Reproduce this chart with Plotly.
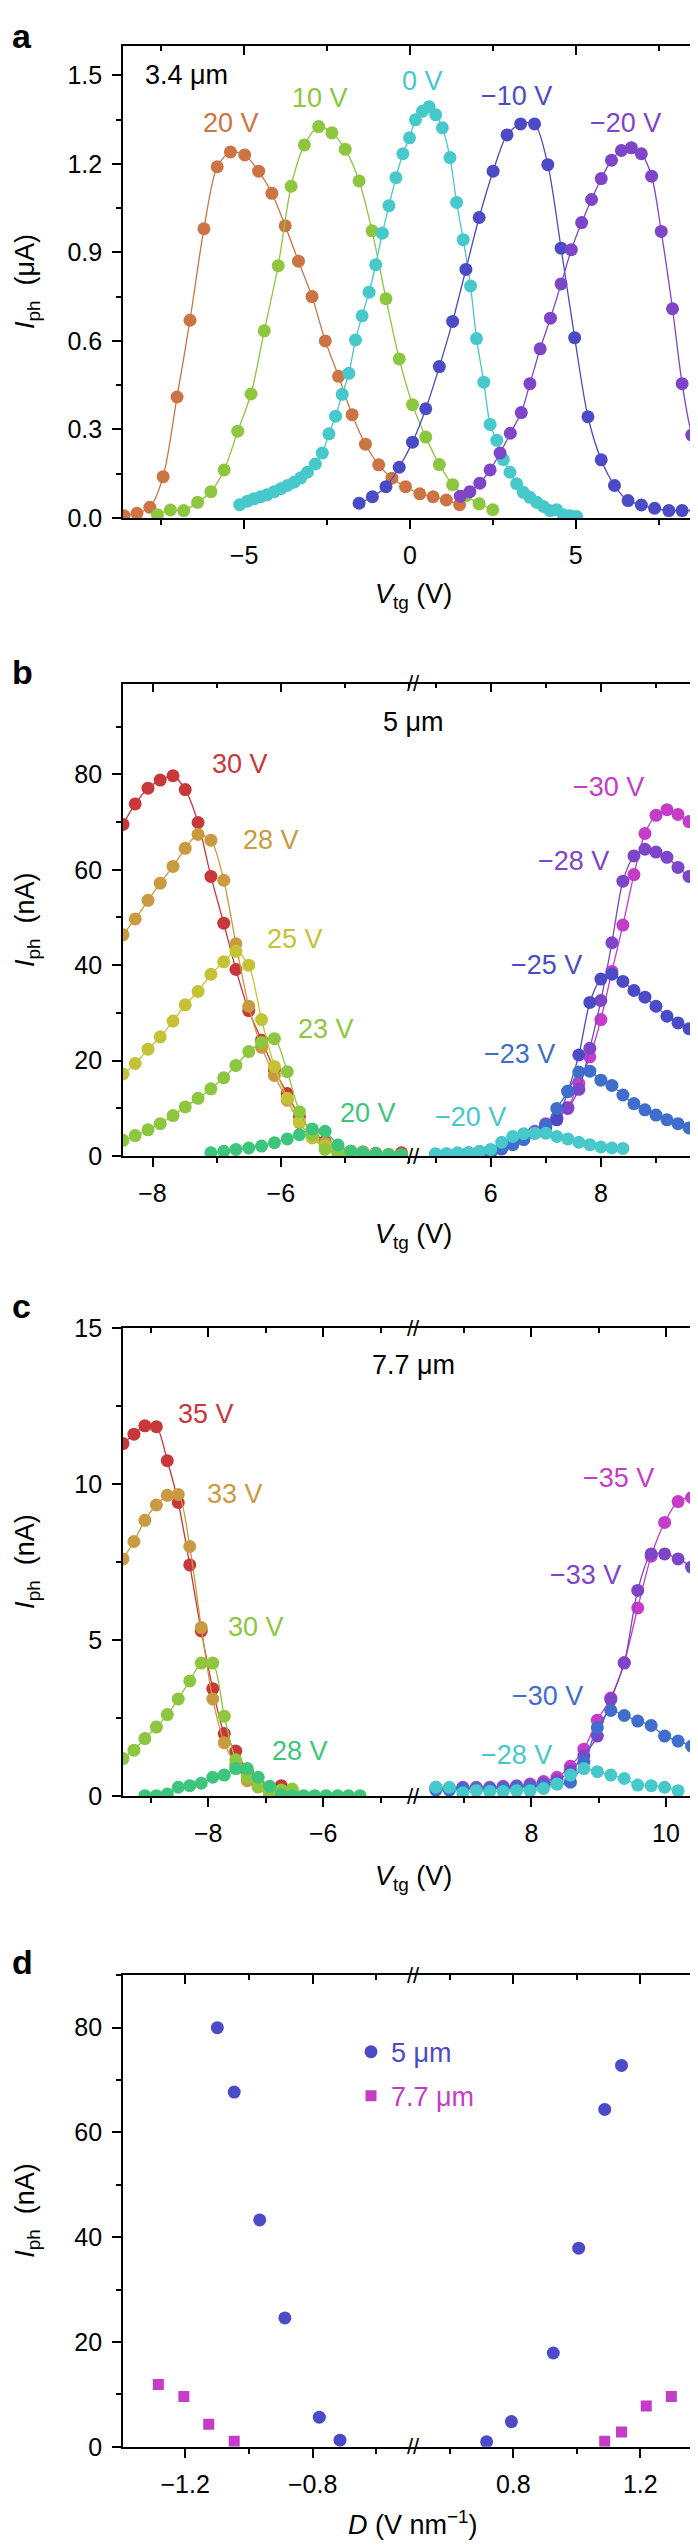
import plotly.graph_objects as go

# ---------------- data ----------------
# panel a: 3.4 um, Iph (uA) vs Vtg (V), one curve per back-gate voltage
a20_x = [-8.62, -8.23, -7.84, -7.44, -7.02, -6.63, -6.21, -5.81, -5.41, -4.98, -4.56, -4.16, -3.76,
         -3.36, -2.95, -2.55, -2.15, -1.74, -1.34, -0.94, -0.54, -0.13, 0.30, 0.70, 1.10, 1.50]
a20_y = [0.008, 0.016, 0.036, 0.14, 0.41, 0.67, 0.98, 1.19, 1.24, 1.23, 1.175, 1.10, 0.99,
         0.87, 0.75, 0.60, 0.48, 0.35, 0.25, 0.18, 0.135, 0.106, 0.082, 0.072, 0.061, 0.045]
a10_x = [-7.61, -7.22, -6.82, -6.40, -6.00, -5.60, -5.19, -4.79, -4.39, -3.97, -3.58, -3.18, -2.75,
         -2.35, -1.95, -1.53, -1.14, -0.72, -0.32, 0.08, 0.48, 0.89, 1.29, 1.69, 2.09, 2.50]
a10_y = [0.011, 0.027, 0.025, 0.053, 0.089, 0.163, 0.294, 0.42, 0.634, 0.855, 1.124, 1.264, 1.326,
         1.305, 1.249, 1.142, 0.973, 0.743, 0.539, 0.384, 0.274, 0.181, 0.113, 0.076, 0.048, 0.028]
a0_x = [-5.13, -4.90, -4.70, -4.50, -4.30, -4.09, -3.89, -3.69, -3.49, -3.29, -3.09, -2.85, -2.64,
        -2.44, -2.24, -2.04, -1.84, -1.64, -1.44, -1.23, -1.03, -0.83, -0.63, -0.42, -0.21, -0.01,
        0.17, 0.38, 0.58, 0.78, 0.98, 1.21, 1.41, 1.61, 1.83, 2.01, 2.23, 2.42, 2.62, 2.82, 3.02,
        3.22, 3.42, 3.62, 3.83, 4.03, 4.23, 4.43, 4.63, 4.83, 5.03]
a0_y = [0.045, 0.057, 0.065, 0.072, 0.079, 0.089, 0.099, 0.110, 0.121, 0.136, 0.155, 0.183, 0.220,
        0.285, 0.345, 0.419, 0.490, 0.603, 0.685, 0.765, 0.858, 0.965, 1.058, 1.153, 1.234, 1.288,
        1.349, 1.378, 1.393, 1.366, 1.322, 1.221, 1.069, 0.943, 0.786, 0.608, 0.460, 0.317, 0.263,
        0.198, 0.155, 0.116, 0.087, 0.070, 0.053, 0.039, 0.025, 0.028, 0.011, 0.008, 0.005]
am10_x = [-1.53, -1.13, -0.72, -0.32, 0.08, 0.48, 0.89, 1.29, 1.69, 2.09, 2.51, 2.93, 3.34,
          3.76, 4.16, 4.56, 4.97, 5.37, 5.77, 6.17, 6.58, 6.98, 7.38, 7.81, 8.21, 8.63]
am10_y = [0.050, 0.072, 0.106, 0.172, 0.257, 0.370, 0.513, 0.666, 0.842, 1.018, 1.175, 1.298, 1.335,
          1.335, 1.197, 0.914, 0.611, 0.343, 0.197, 0.110, 0.059, 0.044, 0.033, 0.025, 0.025, 0.025]
am20_x = [1.52, 1.81, 2.11, 2.42, 2.72, 3.03, 3.36, 3.62, 3.93, 4.24, 4.56, 4.87, 5.18,
          5.48, 5.77, 6.08, 6.38, 6.68, 6.98, 7.29, 7.58, 7.92, 8.21, 8.50, 8.79]
am20_y = [0.074, 0.089, 0.118, 0.163, 0.220, 0.287, 0.357, 0.455, 0.573, 0.677, 0.793, 0.909, 1.001,
          1.079, 1.150, 1.212, 1.245, 1.254, 1.234, 1.158, 0.971, 0.709, 0.455, 0.281, 0.186]

# panel b: 5 um, Iph (nA)
b_left_x = [-8.46, -8.27, -8.07, -7.88, -7.68, -7.49, -7.29, -7.09, -6.89, -6.70, -6.50, -6.30,
            -6.10, -5.90, -5.71, -5.51, -5.31, -5.11, -4.91, -4.72, -4.52, -4.32, -4.12]
b30 = [69.5, 73.8, 77.1, 78.8, 79.7, 76.8, 69.9, 58.6, 48.8, 39.1, 30.5, 24.3,
       18.1, 13.1, 8.3, 5.2, 3.1, 1.7, 1.0, 0.8, 0.6, 0.3, 0.7]
b28 = [46.4, 49.7, 53.6, 57.2, 60.7, 64.5, 67.4, 66.2, 57.8, 44.5, 31.4, 22.8,
       16.9, 11.7, 7.0, 4.0, 2.8, 1.5, 1.0, 0.9, 0.5, 0.4, 0.3]
b25 = [17.2, 19.4, 22.4, 25.0, 28.3, 31.7, 34.5, 38.1, 40.7, 42.9, 40.0, 28.6,
       18.8, 12.1, 7.2, 3.8, 2.1, 0.7, 0.5, 0.4, 0.3, 0.2, 0.2]
b23 = [3.3, 4.3, 5.5, 6.8, 8.5, 10.3, 12.1, 14.1, 16.4, 19.0, 21.9, 23.8,
       24.6, 17.7, 9.3, 4.5, 1.4, 0.6, 0.4, 0.3, 0.2, 0.2, 0.2]
b20_x = [-7.09, -6.89, -6.70, -6.50, -6.30, -6.10, -5.90, -5.71, -5.51, -5.31, -5.11, -4.91,
         -4.72, -4.52, -4.32, -4.12]
b20 = [0.7, 1.0, 1.4, 1.7, 2.1, 2.8, 3.6, 4.5, 5.7, 5.2, 2.3, 1.0, 0.7, 0.5, 0.3, 0.3]

b_right_x = [5.0, 5.2, 5.4, 5.6, 5.8, 6.0, 6.2, 6.4, 6.6, 6.8, 7.0, 7.2, 7.4, 7.6, 7.8, 8.0,
             8.2, 8.4, 8.6, 8.8, 9.0, 9.2, 9.4, 9.6, 9.8]
bm30 = [0.3, 0.4, 0.5, 0.7, 0.9, 1.2, 1.8, 2.8, 3.8, 5.2, 6.8, 8.0, 10.2, 15.2, 20.8, 28.6,
        38.7, 48.4, 59.0, 67.6, 71.4, 72.6, 71.6, 70.1, 68.8]
bm28 = [0.3, 0.4, 0.5, 0.6, 0.8, 1.1, 1.8, 2.8, 3.8, 5.0, 6.5, 8.0, 10.0, 14.0, 22.6, 32.6,
        44.7, 57.6, 62.9, 64.3, 63.7, 62.6, 60.5, 58.6, 57.1]
bm25 = [0.2, 0.3, 0.3, 0.4, 0.5, 0.8, 1.5, 2.5, 3.5, 4.8, 6.0, 7.6, 13.6, 21.2, 32.2, 37.1,
        38.1, 36.6, 34.7, 33.3, 31.4, 29.3, 27.9, 26.7, 25.2]
bm23 = [0.2, 0.3, 0.3, 0.4, 0.5, 0.8, 1.7, 2.4, 3.5, 5.0, 6.5, 10.0, 13.5, 17.6, 17.8, 15.9,
        14.8, 12.8, 11.0, 9.7, 8.6, 7.6, 6.8, 5.9, 5.5]
bm20_x = [5.0, 5.2, 5.4, 5.6, 5.8, 6.0, 6.2, 6.4, 6.6, 6.8, 7.0, 7.2, 7.4, 7.6, 7.8, 8.0, 8.2, 8.4]
bm20 = [0.5, 0.5, 0.7, 0.7, 1.0, 1.4, 2.9, 4.1, 4.7, 4.8, 4.8, 4.1, 3.6, 2.9, 2.4, 1.9, 1.7, 1.6]

# panel c: 7.7 um, Iph (nA)
c_left_x = [-9.48, -9.29, -9.10, -8.90, -8.71, -8.52, -8.32, -8.12, -7.92, -7.72, -7.52, -7.32,
            -7.13, -6.93, -6.73, -6.54]
c35 = [11.31, 11.61, 11.88, 11.85, 10.76, 9.42, 7.42, 5.3, 3.45, 2.01, 1.45, 0.8, 0.35, 0.0, 0.34, 0.15]
c33 = [7.61, 8.17, 8.85, 9.34, 9.65, 9.68, 8.01, 5.41, 3.12, 1.72, 1.0, 0.5, 0.3, 0.15, 0.1, 0.1]
c30 = [1.21, 1.48, 1.85, 2.22, 2.62, 3.12, 3.70, 4.27, 4.27, 2.57, 1.17, 0.61, 0.31, 0.13, 0.2, 0.23]
c28_x = [-9.10, -8.90, -8.71, -8.52, -8.32, -8.12, -7.92, -7.72, -7.52, -7.32, -7.13, -6.93,
         -6.73, -6.54, -6.34, -6.15, -5.95, -5.75, -5.56, -5.36]
c28 = [0.02, 0.02, 0.07, 0.29, 0.34, 0.42, 0.61, 0.68, 0.89, 0.89, 0.61, 0.32,
       0.05, 0.02, 0.02, 0.02, 0.02, 0.02, 0.02, 0.02]

c_right_x = [6.58, 6.78, 6.98, 7.18, 7.38, 7.58, 7.78, 7.98, 8.18, 8.38, 8.58, 8.78, 8.98, 9.18,
             9.38, 9.58, 9.78, 9.98, 10.18, 10.38, 10.58]
cm35 = [0.29, 0.23, 0.29, 0.29, 0.29, 0.32, 0.34, 0.39, 0.47, 0.61, 0.96, 1.51, 2.44, 3.15,
        4.29, 6.04, 7.70, 8.78, 9.45, 9.58, 9.42]
cm33 = [0.25, 0.25, 0.25, 0.25, 0.25, 0.27, 0.30, 0.33, 0.40, 0.50, 0.82, 1.30, 1.93, 3.10,
        4.27, 6.60, 7.77, 7.77, 7.61, 7.35, 6.85]
cm30 = [0.20, 0.20, 0.25, 0.25, 0.25, 0.25, 0.30, 0.30, 0.35, 0.40, 0.45, 1.10, 2.20, 2.75,
        2.59, 2.41, 2.27, 1.93, 1.77, 1.61, 1.37]
cm28_x = [6.58, 6.78, 6.98, 7.18, 7.38, 7.58, 7.78, 7.98, 8.18, 8.38, 8.58, 8.78, 8.98, 9.18,
          9.38, 9.58, 9.78, 9.98, 10.18]
cm28 = [0.29, 0.29, 0.11, 0.18, 0.15, 0.15, 0.18, 0.18, 0.25, 0.39, 0.68, 0.89, 0.79, 0.68,
        0.57, 0.36, 0.34, 0.29, 0.18]

# panel d: peak Iph vs displacement field D (V/nm)
d5_neg_x = [-1.099, -1.046, -0.966, -0.887, -0.779, -0.714]
d5_neg_y = [80.0, 67.7, 43.3, 24.6, 5.65, 1.26]
d5_pos_x = [0.716, 0.794, 0.926, 1.006, 1.088, 1.141]
d5_pos_y = [0.94, 4.8, 17.9, 37.9, 64.4, 72.8]
d77_neg_x = [-1.284, -1.204, -1.126, -1.046]
d77_neg_y = [11.9, 9.6, 4.3, 1.07]
d77_pos_x = [1.088, 1.141, 1.219, 1.298]
d77_pos_y = [1.07, 2.8, 7.8, 9.6]

# tick labels per axis segment
a_xticks = [-5, 0, 5]
b_xticks_l, b_xticks_r = [-8, -6], [6, 8]
c_xticks_l, c_xticks_r = [-8, -6], [8, 10]
d_xticks_l, d_xticks_r = [-1.2, -0.8], [0.8, 1.2]

# colours
ORANGE = "#CC7443"
YGREEN = "#8DC63F"
CYAN = "#47C8CB"
BLUE = "#4B4BC8"
PURPLE = "#7E45C9"
RED = "#C8383B"
TAN = "#C99A40"
OLIVE = "#C6C235"
GREEN = "#3DC67B"
MAGENTA = "#C53CC9"
MBLUE = "#3F6ECC"

FONT = "Liberation Sans, Arial, sans-serif"
TICK_SIZE = 25
LABEL_SIZE = 27
W, H = 698, 2548
L, R = 115, 697


def px(x):
    return (x - L) / (R - L)


def py(y):
    return 1 - y / H


fig = go.Figure()
layout = {}
count = {"x": 0, "y": 0}


def new_axis(letter):
    count[letter] += 1
    n = count[letter]
    key = letter + "axis" + ("" if n == 1 else str(n))
    ref = letter + ("" if n == 1 else str(n))
    return key, ref


def base_axis(rng, ticks, minor, inside):
    side = "inside" if inside else "outside"
    ax = dict(range=rng, showgrid=False, zeroline=False,
              showline=True, linecolor="black", linewidth=1.7,
              ticks=side, ticklen=9, tickwidth=1.5, tickcolor="black",
              minor=dict(dtick=minor, tick0=0, ticks=side, ticklen=5, tickwidth=1.5,
                         tickcolor="black", showgrid=False),
              tickfont=dict(family=FONT, size=TICK_SIZE, color="black"))
    if isinstance(ticks, list):
        ax.update(tickmode="array", tickvals=ticks)
    else:
        ax.update(tick0=0, dtick=ticks)
    return ax


def blank(xr, yr):
    # empty trace so that the mirror axes get drawn
    fig.add_trace(go.Scatter(x=[], y=[], xaxis=xr, yaxis=yr, showlegend=False, hoverinfo="skip"))


def make_panel(top, bot, segs, yrng, ydtick, yminor, yfmt):
    ykey, yref = new_axis("y")
    xrefs, tops = [], []
    for x0, x1, rng, ticks, mn in segs:
        xkey, xref = new_axis("x")
        ax = base_axis(rng, ticks, mn, False)
        ax.update(domain=[px(x0), px(x1)], anchor=yref, side="bottom", ticklabelstandoff=5)
        layout[xkey] = ax
        tkey, tref = new_axis("x")
        tax = base_axis(rng, ticks, mn, True)
        tax.update(overlaying=xref, anchor=yref, side="top", showticklabels=False)
        layout[tkey] = tax
        xrefs.append(xref)
        tops.append(tref)
    yax = base_axis(yrng, ydtick, yminor, False)
    yax.update(domain=[py(bot), py(top)], anchor=xrefs[0], side="left",
               tickformat=yfmt, ticklabelstandoff=5)
    layout[ykey] = yax
    rkey, rref = new_axis("y")
    rax = base_axis(yrng, ydtick, yminor, True)
    rax.update(overlaying=yref, anchor=xrefs[-1], side="right", showticklabels=False)
    layout[rkey] = rax
    for tref in tops:
        blank(tref, yref)
    blank(xrefs[-1], rref)
    return xrefs, yref


def curve(x, y, color, xr, yr):
    fig.add_trace(go.Scatter(x=x, y=y, xaxis=xr, yaxis=yr, mode="lines+markers",
                             line=dict(color=color, width=1.3, shape="spline", smoothing=0.8),
                             marker=dict(size=13, color=color), showlegend=False))


BRK = 405
# panel a
(xa,), ya = make_panel(24, 501.5, [(L, R, [-8.65, 8.9], a_xticks, 2.5)], [0, 1.6], 0.3, 0.15, ".1f")
for xs, ys, c in [(a20_x, a20_y, ORANGE), (a10_x, a10_y, YGREEN), (a0_x, a0_y, CYAN),
                  (am10_x, am10_y, BLUE), (am20_x, am20_y, PURPLE)]:
    curve(xs, ys, c, xa, ya)

# panel b
(xb1, xb2), yb = make_panel(669, 1146.7, [(L, BRK, [-8.46, -3.94], b_xticks_l, 1),
                                          (BRK, R, [4.59, 9.89], b_xticks_r, 1)], [0, 99], 20, 10, "d")
for xs, ys, c in [(b_left_x, b30, RED), (b_left_x, b28, TAN), (b_left_x, b25, OLIVE),
                  (b_left_x, b23, YGREEN), (b20_x, b20, GREEN)]:
    curve(xs, ys, c, xb1, yb)
for xs, ys, c in [(b_right_x, bm30, MAGENTA), (b_right_x, bm28, PURPLE), (b_right_x, bm25, BLUE),
                  (b_right_x, bm23, MBLUE), (bm20_x, bm20, CYAN)]:
    curve(xs, ys, c, xb2, yb)

# panel c
(xc1, xc2), yc = make_panel(1321, 1794, [(L, BRK, [-9.48, -4.44], c_xticks_l, 1),
                                         (BRK, R, [6.24, 10.58], c_xticks_r, 1)], [0, 15], 5, 2.5, "d")
for xs, ys, c in [(c_left_x, c35, RED), (c_left_x, c33, TAN), (c_left_x, c30, YGREEN),
                  (c28_x, c28, GREEN)]:
    curve(xs, ys, c, xc1, yc)
for xs, ys, c in [(c_right_x, cm35, MAGENTA), (c_right_x, cm33, PURPLE), (c_right_x, cm30, MBLUE),
                  (cm28_x, cm28, CYAN)]:
    curve(xs, ys, c, xc2, yc)

# panel d
(xd1, xd2), yd = make_panel(1975, 2451.7, [(L, BRK, [-1.395, -0.485], d_xticks_l, 0.2),
                                           (BRK, R, [0.484, 1.404], d_xticks_r, 0.2)],
                            [0, 90], 20, 10, "d")
for xs, ys, xr, show in [(d5_neg_x, d5_neg_y, xd1, True), (d5_pos_x, d5_pos_y, xd2, False)]:
    fig.add_trace(go.Scatter(x=xs, y=ys, xaxis=xr, yaxis=yd, mode="markers",
                             marker=dict(size=13, color=BLUE, symbol="circle"),
                             name='<span style="color:%s">5 μm</span>' % BLUE,
                             legendgroup="g5", showlegend=show))
for xs, ys, xr, show in [(d77_neg_x, d77_neg_y, xd1, True), (d77_pos_x, d77_pos_y, xd2, False)]:
    fig.add_trace(go.Scatter(x=xs, y=ys, xaxis=xr, yaxis=yd, mode="markers",
                             marker=dict(size=11, color=MAGENTA, symbol="square"),
                             name='<span style="color:%s">7.7 μm</span>' % MAGENTA,
                             legendgroup="g77", showlegend=show))

# ---------------- text ----------------
ann = []


def text(x, y, s, color="black", size=LABEL_SIZE, angle=0, bold=False, xanchor="center"):
    if bold:
        s = "<b>%s</b>" % s
    ann.append(dict(x=px(x), y=py(y), xref="paper", yref="paper", text=s, showarrow=False,
                    xanchor=xanchor, yanchor="middle", textangle=angle,
                    font=dict(family=FONT, size=size, color=color)))


for s, y in [("a", 14), ("b", 657), ("c", 1298), ("d", 1962)]:
    text(2, y, s, size=34, bold=True, xanchor="left")

ytitle_ua = "<i>I</i><sub>ph</sub>  (μA)"
ytitle_na = "<i>I</i><sub>ph</sub>  (nA)"
for s, y in [(ytitle_ua, 263), (ytitle_na, 908), (ytitle_na, 1557), (ytitle_na, 2213)]:
    text(19, y, s, angle=-90)
xt = "<i>V</i><sub>tg</sub> (V)"
for y in [580, 1227, 1877]:
    text(405, y, xt)
text(405, 2529, "<i>D</i> (V nm<sup>−1</sup>)")

# curve labels
text(178, 54, "3.4 μm")
for s, x, y, c in [("20 V", 223, 102, ORANGE), ("10 V", 312, 77, YGREEN), ("0 V", 414, 60, CYAN),
                   ("−10 V", 508, 75, BLUE), ("−20 V", 617, 102, PURPLE)]:
    text(x, y, s, c)
text(405, 708, "5 μm")
for s, x, y, c in [("30 V", 232, 750, RED), ("28 V", 263, 827, TAN), ("25 V", 287, 927, OLIVE),
                   ("23 V", 318, 1018, YGREEN), ("20 V", 360, 1103, GREEN),
                   ("−30 V", 600, 773, MAGENTA), ("−28 V", 565, 848, PURPLE),
                   ("−25 V", 538, 953, BLUE), ("−23 V", 511, 1043, MBLUE), ("−20 V", 462, 1107, CYAN)]:
    text(x, y, s, c)
text(405, 1358, "7.7 μm")
for s, x, y, c in [("35 V", 198, 1407, RED), ("33 V", 227, 1488, TAN), ("30 V", 248, 1623, YGREEN),
                   ("28 V", 292, 1748, GREEN), ("−35 V", 610, 1472, MAGENTA),
                   ("−33 V", 577, 1570, PURPLE), ("−30 V", 539, 1693, MBLUE),
                   ("−28 V", 508, 1752, CYAN)]:
    text(x, y, s, c)

# axis-break marks
for y in [669, 1146.7, 1321, 1794, 1975, 2451.7]:
    text(BRK, y, "//", size=22)

layout.update(
    width=W, height=H, margin=dict(l=L, r=W - R, t=0, b=0),
    plot_bgcolor="white", paper_bgcolor="white",
    font=dict(family=FONT, size=TICK_SIZE, color="black"),
    annotations=ann,
    showlegend=True,
    legend=dict(x=px(343), y=py(2028), xanchor="left", yanchor="top", bgcolor="rgba(0,0,0,0)",
                font=dict(family=FONT, size=LABEL_SIZE), tracegroupgap=6, itemwidth=30,
                traceorder="grouped"),
)
fig.update_layout(**layout)
fig.write_html("out.html")
